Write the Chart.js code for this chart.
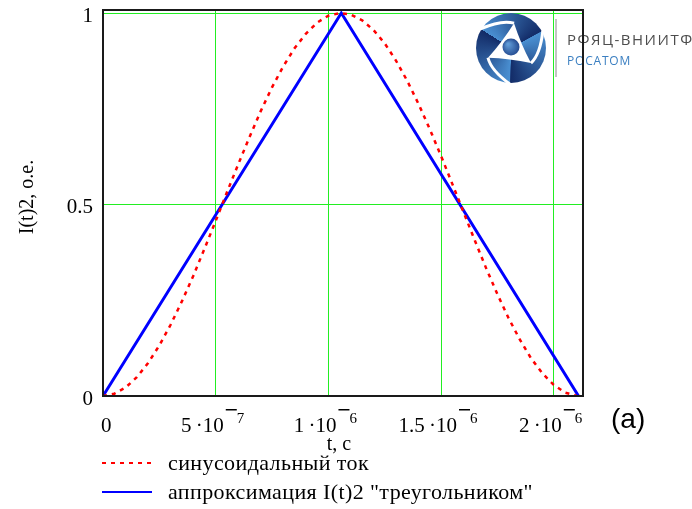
<!DOCTYPE html>
<html>
<head>
<meta charset="utf-8">
<script src="https://cdn.jsdelivr.net/npm/chart.js@4/dist/chart.umd.min.js"></script>
<style>
	html, body { margin: 0; padding: 0; background: #fff; }
	canvas { display: block; }
</style>
</head>
<body>
<canvas id="chart" width="692" height="509"></canvas>
<script>
// Data (time in seconds, current squared in relative units)
var sineT = [0, 0.05e-6, 0.1e-6, 0.15e-6, 0.2e-6, 0.25e-6, 0.3e-6, 0.35e-6, 0.4e-6, 0.45e-6,
	0.5e-6, 0.55e-6, 0.6e-6, 0.65e-6, 0.7e-6, 0.75e-6, 0.8e-6, 0.85e-6, 0.9e-6, 0.95e-6,
	1.0e-6, 1.05e-6, 1.1e-6, 1.15e-6, 1.2e-6, 1.25e-6, 1.3e-6, 1.35e-6, 1.4e-6, 1.45e-6,
	1.5e-6, 1.55e-6, 1.6e-6, 1.65e-6, 1.7e-6, 1.75e-6, 1.8e-6, 1.85e-6, 1.9e-6, 1.95e-6,
	2.0e-6, 2.05e-6, 2.1e-6];
var sineI = [0, 0.006, 0.022, 0.049, 0.086, 0.132, 0.186, 0.247, 0.313, 0.384,
	0.457, 0.532, 0.605, 0.676, 0.744, 0.806, 0.861, 0.908, 0.946, 0.975,
	0.993, 1.0, 0.996, 0.981, 0.956, 0.921, 0.876, 0.823, 0.763, 0.697,
	0.627, 0.554, 0.480, 0.406, 0.334, 0.266, 0.203, 0.147, 0.098, 0.059,
	0.029, 0.009, 0.001];

var triT = [0, 1.0575e-6, 2.11e-6];
var triI = [0, 1, 0];

var xTicks = [0, 5e-7, 1e-6, 1.5e-6, 2e-6];
var yTicks = [0, 0.5, 1];
var yTickLabels = ['0', '0.5', '1'];

var seriesNames = ['синусоидальный ток', 'аппроксимация I(t)2 "треугольником"'];

var toPoints = function(xs, ys) {
	var pts = [];
	for (var i = 0; i < xs.length; i++) {
		pts.push({x: xs[i], y: ys[i]});
	}
	return pts;
};

var SERIF = '"Liberation Serif", "Times New Roman", serif';
var GRID = '#22ee22';

// Tick label like 5·10^-7, exponent drawn raised with a bar for the minus
var drawSciLabel = function(ctx, v, cx, baseline) {
	if (v === 0) {
		ctx.font = '21px ' + SERIF;
		ctx.textAlign = 'left';
		ctx.fillText('0', cx - 2, baseline);
		return;
	}
	var exp = Math.floor(Math.log10(v) + 1e-9);
	var mant = Math.round(v / Math.pow(10, exp) * 10) / 10;
	var main = mant + '\u2009\u00b7' + '10';
	var sup = String(-exp);
	ctx.font = '21px ' + SERIF;
	var wMain = ctx.measureText(main).width;
	ctx.font = '15px ' + SERIF;
	var wSup = ctx.measureText(sup).width;
	var barW = 11;
	var total = wMain + 2 + barW + wSup;
	var x0 = cx - 3 - total / 2;
	ctx.textAlign = 'left';
	ctx.font = '21px ' + SERIF;
	ctx.fillText(main, x0, baseline);
	// minus bar
	ctx.fillRect(x0 + wMain + 2, baseline - 23, barW, 1.5);
	ctx.font = '15px ' + SERIF;
	ctx.fillText(sup, x0 + wMain + 2 + barW, baseline - 9);
};

var drawLogo = function(ctx) {
	var cx = 511, cy = 48, r = 35;
	var deg = Math.PI / 180;
	ctx.save();
	var g;
	if (ctx.createConicGradient) {
		g = ctx.createConicGradient(-148 * deg, cx, cy);
		for (var k = 0; k < 3; k++) {
			g.addColorStop(k / 3, '#4a90d2');
			g.addColorStop(k / 3 + 0.33, '#132c68');
		}
	} else {
		g = '#2a5fa8';
	}
	ctx.fillStyle = g;
	ctx.beginPath();
	ctx.arc(cx, cy, r, 0, Math.PI * 2);
	ctx.fill();

	// white gaps between ring segments
	ctx.strokeStyle = '#fff';
	ctx.lineWidth = 3;
	var verts = [];
	for (var i = 0; i < 3; i++) {
		var a = (-83 + i * 120) * deg;
		verts.push([cx + 25 * Math.cos(a), cy + 25 * Math.sin(a)]);
		var a2 = a - 65 * deg;
		ctx.beginPath();
		ctx.moveTo(verts[i][0], verts[i][1]);
		ctx.quadraticCurveTo(cx + 30 * Math.cos(a - 25 * deg), cy + 30 * Math.sin(a - 25 * deg),
			cx + (r + 1) * Math.cos(a2), cy + (r + 1) * Math.sin(a2));
		ctx.stroke();
	}
	// white curved triangle
	ctx.fillStyle = '#fff';
	ctx.beginPath();
	ctx.moveTo(verts[0][0], verts[0][1]);
	for (var j = 1; j <= 3; j++) {
		var p = verts[j % 3], q = verts[j - 1];
		var mx = (p[0] + q[0]) / 2, my = (p[1] + q[1]) / 2;
		ctx.quadraticCurveTo(mx + (cx - mx) * 0.15, my + (cy - my) * 0.15, p[0], p[1]);
	}
	ctx.fill();
	// center ball
	var bg = ctx.createRadialGradient(cx - 3, cy - 4, 1, cx, cy, 10);
	bg.addColorStop(0, '#5f9ad6');
	bg.addColorStop(1, '#1b3f86');
	ctx.fillStyle = bg;
	ctx.beginPath();
	ctx.arc(cx, cy - 1, 8.5, 0, Math.PI * 2);
	ctx.fill();

	// separator and text
	ctx.fillStyle = '#c4c4c4';
	ctx.fillRect(555, 19, 2, 58);
	ctx.textAlign = 'left';
	ctx.textBaseline = 'alphabetic';
	ctx.letterSpacing = '1.5px';
	ctx.fillStyle = '#4d4d4d';
	ctx.font = '15px "Open Sans", sans-serif';
	ctx.fillText('РФЯЦ-ВНИИТФ', 567, 45);
	ctx.letterSpacing = '0.8px';
	ctx.fillStyle = '#3b7fc1';
	ctx.font = '12px "Open Sans", sans-serif';
	ctx.fillText('РОСАТОМ', 567, 65);
	ctx.restore();
};

var decorPlugin = {
	id: 'decor',
	afterDraw: function(chart) {
		var ctx = chart.ctx;
		var area = chart.chartArea;
		var xScale = chart.scales.x;
		var yScale = chart.scales.y;

		drawLogo(ctx);

		ctx.save();
		// plot frame
		ctx.strokeStyle = '#1a1a1a';
		ctx.lineWidth = 2;
		ctx.strokeRect(area.left, area.top, area.right - area.left, area.bottom - area.top);

		ctx.fillStyle = '#000';
		ctx.textBaseline = 'alphabetic';
		for (var i = 0; i < xTicks.length; i++) {
			drawSciLabel(ctx, xTicks[i], xScale.getPixelForValue(xTicks[i]), 432);
		}

		// y tick labels
		ctx.font = '21px ' + SERIF;
		ctx.textAlign = 'right';
		ctx.textBaseline = 'middle';
		for (var m = 0; m < yTicks.length; m++) {
			ctx.fillText(yTickLabels[m], 93, yScale.getPixelForValue(yTicks[m]) + 3);
		}
		ctx.textBaseline = 'alphabetic';

		// axis titles
		ctx.font = '20px ' + SERIF;
		ctx.textAlign = 'center';
		ctx.fillText('t, c', 339, 450);
		ctx.save();
		ctx.translate(33, 197);
		ctx.rotate(-Math.PI / 2);
		ctx.fillText('I(t)2, o.e.', 0, 0);
		ctx.restore();

		ctx.font = '28px "Liberation Sans", Arial, sans-serif';
		ctx.textAlign = 'left';
		ctx.fillText('(a)', 611, 428);

		// legend
		var ds = chart.data.datasets;
		var rows = [463, 492];
		for (var j = 0; j < ds.length; j++) {
			ctx.strokeStyle = ds[j].borderColor;
			ctx.lineWidth = 2;
			ctx.setLineDash(ds[j].borderDash || []);
			ctx.beginPath();
			ctx.moveTo(102, rows[j]);
			ctx.lineTo(152, rows[j]);
			ctx.stroke();
			ctx.setLineDash([]);
			ctx.font = '22px ' + SERIF;
			ctx.letterSpacing = '0.4px';
			ctx.fillText(ds[j].label, 168, rows[j] + 7);
			ctx.letterSpacing = '0px';
		}
		ctx.restore();
	}
};

var chart = new Chart(document.getElementById('chart'), {
	type: 'scatter',
	data: {
		datasets: [{
			label: seriesNames[0],
			data: toPoints(sineT, sineI),
			showLine: true,
			borderColor: '#ff0000',
			borderWidth: 2.5,
			borderDash: [4, 5],
			pointRadius: 0,
			tension: 0
		}, {
			label: seriesNames[1],
			data: toPoints(triT, triI),
			showLine: true,
			borderColor: '#0000ff',
			borderWidth: 3,
			pointRadius: 0,
			tension: 0
		}]
	},
	options: {
		responsive: false,
		animation: false,
		devicePixelRatio: 1,
		layout: {padding: {top: 10, right: 109, left: 0, bottom: 0}},
		plugins: {legend: {display: false}, tooltip: {enabled: false}},
		scales: {
			x: {
				type: 'linear',
				min: 0,
				max: 2.13e-6,
				afterBuildTicks: function(scale) {
					scale.ticks = xTicks.map(function(v) { return {value: v}; });
				},
				afterFit: function(scale) { scale.height = 113; },
				ticks: {display: false},
				border: {display: false},
				grid: {drawTicks: false, lineWidth: 1, color: GRID}
			},
			y: {
				type: 'linear',
				min: 0,
				max: 1.008,
				afterBuildTicks: function(scale) {
					scale.ticks = yTicks.map(function(v) { return {value: v}; });
				},
				afterFit: function(scale) { scale.width = 103; },
				ticks: {display: false},
				border: {display: false},
				grid: {drawTicks: false, lineWidth: 1, color: GRID}
			}
		}
	},
	plugins: [decorPlugin]
});
</script>
</body>
</html>
